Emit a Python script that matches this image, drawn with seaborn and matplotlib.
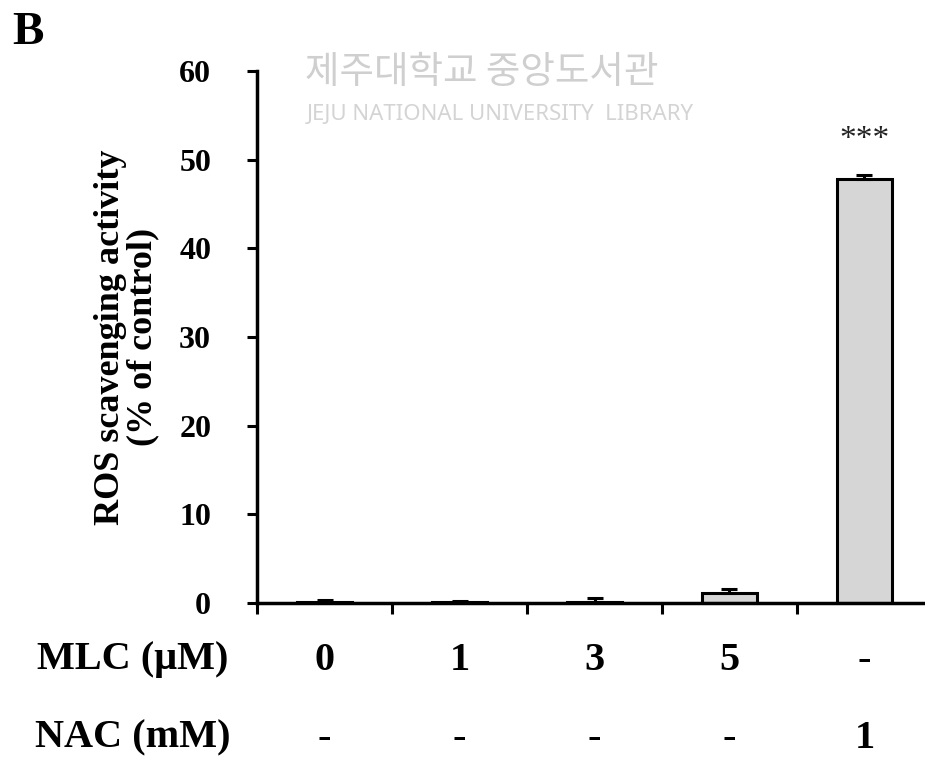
import numpy as np
import pandas as pd
import matplotlib
matplotlib.use("Agg")
import matplotlib.pyplot as plt
import seaborn as sns

# data
groups = ["g0", "g1", "g3", "g5", "nac"]
ros_activity = [0.15, 0.1, 0.1, 1.1, 47.8]
ros_err = [0.15, 0.15, 0.45, 0.45, 0.45]
mlc_labels = ["0", "1", "3", "5", "-"]
nac_labels = ["-", "-", "-", "-", "1"]
signif = ["", "", "", "", "***"]

sns.set_theme(style="white")
plt.rcParams["font.family"] = ["Liberation Serif", "DejaVu Serif"]
plt.rcParams["text.color"] = "black"
plt.rcParams["axes.labelcolor"] = "black"
plt.rcParams["ytick.color"] = "black"
plt.rcParams["xtick.color"] = "black"

df = pd.DataFrame({"group": groups, "value": ros_activity})

fig = plt.figure(figsize=(9.25, 7.58), dpi=100)
ax = fig.add_axes([257 / 925, 155 / 758, 675 / 925, 532 / 758])

sns.barplot(data=df, x="group", y="value", ax=ax, color="#d6d6d6",
            edgecolor="black", linewidth=2.2, width=0.41, saturation=1,
            errorbar=None, zorder=2)
xs = np.arange(len(groups))
ax.errorbar(xs, ros_activity, yerr=[np.zeros(len(groups)), ros_err],
            fmt="none", ecolor="black", elinewidth=2.2, capsize=6,
            capthick=2.2, zorder=3)

for x, v, e, s in zip(xs, ros_activity, ros_err, signif):
    if s:
        ax.text(x, v + e + 2.3, s, ha="center", va="bottom", fontsize=24,
                color="#222222")

ax.set_ylim(0, 60)
ax.set_xlim(-0.5, len(groups) - 0.5)
ax.set_yticks(range(0, 61, 10))
ax.set_ylabel("ROS scavenging activity\n(% of control)", fontsize=26,
              fontweight="bold", labelpad=14, linespacing=1.0)
ax.set_xlabel("")
ax.set_xticks(np.arange(-0.5, len(groups), 1.0))
ax.set_xticklabels([])
ax.tick_params(axis="y", direction="out", length=7, width=2.2,
               labelsize=23, pad=26, left=True)
ax.tick_params(axis="x", direction="out", length=8, width=2.2, bottom=True)
for lbl in ax.get_yticklabels():
    lbl.set_fontweight("bold")

sns.despine(ax=ax, top=True, right=True)
for sp in ["left", "bottom"]:
    ax.spines[sp].set_linewidth(2.5)
    ax.spines[sp].set_color("black")

# condition table below the axis
trans = matplotlib.transforms.blended_transform_factory(ax.transData, fig.transFigure)
fig.text(133 / 925, 98 / 758, "MLC (\u03bcM)", ha="center", va="center",
         fontsize=29, fontweight="bold")
fig.text(133 / 925, 20 / 758, "NAC (mM)", ha="center", va="center",
         fontsize=29, fontweight="bold")
for x, m, n in zip(xs, mlc_labels, nac_labels):
    ax.text(x, 98 / 758, m, transform=trans, ha="center", va="center",
            fontsize=29, fontweight="bold", clip_on=False)
    ax.text(x, 20 / 758, n, transform=trans, ha="center", va="center",
            fontsize=29, fontweight="bold", clip_on=False)

fig.text(12 / 925, 1 - 33 / 758, "B", ha="left", va="center", fontsize=34,
         fontweight="bold")

# faint library watermark
fig.text(305 / 925, 1 - 72 / 758, "제주대학교 중앙도서관", ha="left", va="center",
         fontsize=27, color="#cfcfcf", family=["Noto Sans CJK KR", "DejaVu Sans"])
fig.text(307 / 925, 1 - 114 / 758, "JEJU NATIONAL UNIVERSITY  LIBRARY", ha="left",
         va="center", fontsize=16, color="#d4d4d4", family=["Noto Sans", "DejaVu Sans"])

fig.savefig("out.png", dpi=100)
